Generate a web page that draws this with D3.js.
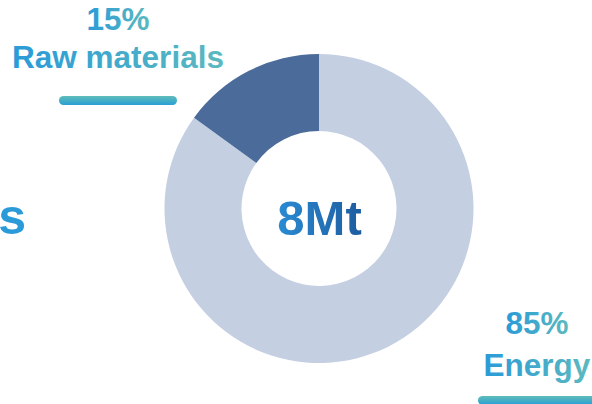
<!DOCTYPE html>
<html>
<head>
<meta charset="utf-8">
<script src="https://cdn.jsdelivr.net/npm/d3@7"></script>
<style>
  html, body { margin: 0; padding: 0; background: #fff; overflow: hidden; }
  svg { display: block; font-family: "Liberation Sans", Arial, sans-serif; }
  text { font-weight: 700; }
</style>
</head>
<body>
<div id="chart"></div>
<script>
// data
const categories = ["Energy", "Raw materials"];
const shares = [85, 15];
const sliceColors = ["#c4cfe2", "#4b6b9a"];
const totalLabel = "8Mt";

const width = 592, height = 404;
const cx = 319, cy = 208.5;
const outerR = 154.5, innerR = 77.5;

const svg = d3.select("#chart").append("svg")
  .attr("width", width)
  .attr("height", height);

const defs = svg.append("defs");

// text gradient blue -> teal
const tg = defs.append("linearGradient")
  .attr("id", "textGrad")
  .attr("x1", "0%").attr("x2", "100%").attr("y1", "0%").attr("y2", "0%");
tg.append("stop").attr("offset", "0%").attr("stop-color", "#2a9bd8");
tg.append("stop").attr("offset", "100%").attr("stop-color", "#5cb9bf");

// bar gradient teal top -> blue bottom
const bg = defs.append("linearGradient")
  .attr("id", "barGrad")
  .attr("x1", "0%").attr("x2", "0%").attr("y1", "0%").attr("y2", "100%");
bg.append("stop").attr("offset", "0%").attr("stop-color", "#5fbdb9");
bg.append("stop").attr("offset", "100%").attr("stop-color", "#2a9fd6");

// center text gradient
const cg = defs.append("linearGradient")
  .attr("id", "centerGrad")
  .attr("x1", "0%").attr("x2", "100%").attr("y1", "0%").attr("y2", "0%");
cg.append("stop").attr("offset", "0%").attr("stop-color", "#2a8bd3");
cg.append("stop").attr("offset", "100%").attr("stop-color", "#1e5c9f");

// clipped heading letter on the left edge
svg.append("text")
  .attr("x", 26)
  .attr("y", 234)
  .attr("text-anchor", "end")
  .style("font-size", "50px")
  .attr("fill", "#2a9ad8")
  .text("s");

// donut
const pie = d3.pie().sort(null).value(d => d);
const arc = d3.arc().innerRadius(innerR).outerRadius(outerR);

const g = svg.append("g").attr("transform", `translate(${cx},${cy})`);
g.selectAll("path")
  .data(pie(shares))
  .join("path")
  .attr("d", arc)
  .attr("fill", (d, i) => sliceColors[i]);

g.append("text")
  .attr("text-anchor", "middle")
  .attr("x", 0.5)
  .attr("y", 26.5)
  .attr("fill", "url(#centerGrad)")
  .style("font-size", "49px")
  .text(totalLabel);

// labels
const labels = [
  { i: 1, x: 118, y1: 30, y2: 68, bx: 59, by: 96, bw: 118 },
  { i: 0, x: 537, y1: 334, y2: 376, bx: 478, by: 396, bw: 140 }
];

labels.forEach(l => {
  const lg = svg.append("g");
  lg.append("text")
    .attr("x", l.x).attr("y", l.y1)
    .attr("text-anchor", "middle")
    .attr("fill", "url(#textGrad)")
    .style("font-size", "31.5px")
    .text(shares[l.i] + "%");
  lg.append("text")
    .attr("x", l.x).attr("y", l.y2)
    .attr("text-anchor", "middle")
    .attr("fill", "url(#textGrad)")
    .style("font-size", "31.5px")
    .text(categories[l.i]);
  lg.append("rect")
    .attr("x", l.bx).attr("y", l.by)
    .attr("width", l.bw).attr("height", 9)
    .attr("rx", 4.5)
    .attr("fill", "url(#barGrad)");
});
</script>
</body>
</html>
